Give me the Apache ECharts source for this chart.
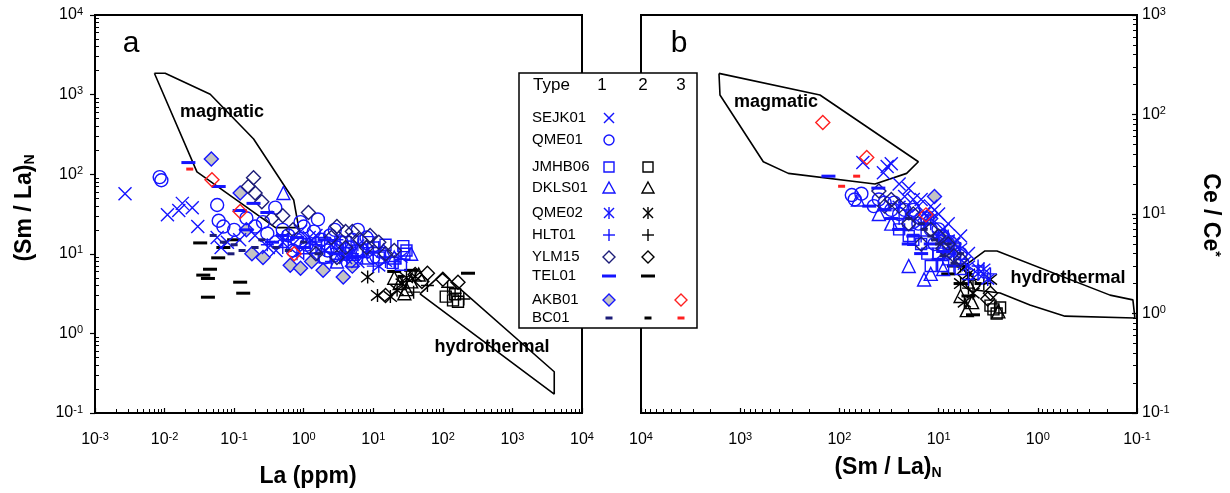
<!DOCTYPE html>
<html>
<head>
<meta charset="utf-8">
<script src="https://cdn.jsdelivr.net/npm/echarts@6/dist/echarts.min.js"></script>
<style>
  html, body { margin: 0; padding: 0; background: #fff; }
  #chart { width: 1230px; height: 493px; }
</style>
</head>
<body>
<div id="chart"></div>
<script>
// ---- tick labels ----
var ticksLa = [0.001, 0.01, 0.1, 1, 10, 100, 1000, 10000];
var ticksSmLa = [0.1, 1, 10, 100, 1000, 10000];
var ticksCe = [0.1, 1, 10, 100, 1000];

// ---- field outlines ----
var magmaticA = [[0.00714, 1853], [0.0102, 1853], [0.0453, 1009], [0.1905, 277], [0.718, 47.4], [0.847, 21.3], [0.392, 21.3], [0.0292, 107]];
var hydroA = [[46.9, 3.13], [98.6, 5.69], [3990, 0.33], [3990, 0.173]];
var magmaticB = [[1636, 259], [157, 157], [16.0, 33.5], [21.0, 25.6], [43.8, 20.0], [327, 25.6], [585, 33.5], [1599, 157]];
var hydroB = [[5.68, 2.93], [3.41, 4.25], [2.58, 4.25], [0.187, 1.53], [0.11, 1.37], [0.105, 0.9], [0.532, 0.94], [1.2, 1.22], [2.4, 1.61], [4.3, 1.72]];

// ---- panel a: [La ppm, (Sm/La)N] ----
var a_SEJK01 = [[0.0027, 57], [0.011, 31], [0.018, 43], [0.025, 38], [0.016, 35], [0.057, 16], [0.08, 14], [0.065, 12], [0.03, 22], [0.12, 15], [0.31, 12], [0.5, 14], [0.2, 17], [1.5, 17], [2.5, 13], [0.9, 19], [0.7, 13], [1.2, 16], [3, 11], [4, 9], [6, 8], [0.4, 11]];
var a_QME01 = [[0.0085, 92], [0.009, 84], [0.057, 41], [0.06, 26], [0.07, 22], [0.1, 20], [0.26, 25], [0.39, 38], [0.3, 18], [0.5, 20], [0.8, 15], [1.0, 22], [1.6, 27], [2.4, 17], [3, 12], [4, 10], [5, 15], [0.2, 22], [1.3, 12], [0.7, 11], [6, 20], [2, 9], [0.15, 28], [8, 16], [0.4, 14], [0.6, 17], [1.1, 13], [1.8, 15], [2.8, 20], [3.5, 14], [4.5, 12], [7, 11], [10, 9], [1.4, 19], [0.9, 25], [2.2, 11]];
var a_JMHB06_1 = [[8.5, 14], [10, 12], [27, 12.5], [28, 10], [19, 7.7], [25, 7.3], [3, 10], [5, 8], [2, 9], [1.5, 12], [4, 14], [6, 11], [12, 9], [30, 11], [15, 13]];
var a_JMHB06_2 = [[110, 2.9], [140, 2.6], [165, 2.5], [150, 3.1]];
var a_DKLS01_1 = [[0.51, 58], [5, 10], [8, 9], [14, 11], [20, 9], [3, 8], [35, 10]];
var a_DKLS01_2 = [[20, 5], [24, 4.3], [30, 3.6], [35, 4.5], [28, 3.2], [45, 5.5]];
var a_QME02_1 = [[1.2, 14], [2, 11], [3.5, 9], [6, 13], [15, 8], [0.8, 10], [10, 10], [0.5, 16], [1.8, 12], [2.8, 14], [4.5, 10], [8, 11], [12, 7], [25, 9]];
var a_QME02_2 = [[8.3, 5.1], [11.5, 3.0], [17.6, 2.9], [22, 3.5], [26, 4.2], [30, 5], [40, 5.2]];
var a_HLT01_1 = [[0.5, 12], [1, 10], [2, 16], [4, 12], [7, 9], [10, 7], [20, 8], [0.6, 15], [1.5, 13], [3, 15], [5, 10], [12, 12], [15, 9], [2.5, 8], [0.3, 13]];
var a_HLT01_2 = [[38, 3.3], [60, 4], [117, 3.8], [200, 2.7], [30, 4.5], [150, 3.2]];
var a_YLM15_1 = [[0.19, 90], [0.2, 58], [0.16, 70], [1.17, 33], [3, 22], [4, 19], [5, 19], [6.5, 15], [2.5, 16], [8, 12], [12, 14], [0.5, 30], [1.5, 10], [3, 9], [0.7, 20], [20, 11], [0.25, 45], [0.35, 28], [9, 17], [15, 10], [4, 12]];
var a_YLM15_2 = [[15, 3], [40, 5.5], [60, 5.7], [165, 4.4], [100, 4.8], [50, 4.5]];
var a_TEL01_1 = [[0.022, 140], [0.06, 70], [0.19, 43], [0.3, 33], [0.15, 20], [1, 12], [3, 10], [0.5, 17], [0.12, 35], [0.35, 14], [2, 15], [5, 9], [0.8, 16]];
var a_TEL01_2 = [[0.0325, 13.7], [0.059, 8.9], [0.045, 6.4], [0.036, 5.4], [0.042, 4.9], [0.122, 4.4], [0.135, 3.2], [0.042, 2.85], [0.1, 15], [230, 5.7], [20, 6], [35, 6.2], [0.07, 12]];
var a_AKB01_1 = [[0.047, 155], [0.122, 58], [0.64, 7.2], [0.9, 6.6], [1.9, 6.2], [3.7, 5.1], [0.26, 9], [0.18, 10], [5, 7], [0.15, 20], [1.3, 8]];
var a_AKB01_3 = [[0.048, 85], [0.122, 34], [0.73, 10]];
var a_BC01_1 = [[0.05, 17], [0.07, 14], [0.1, 13], [0.13, 11], [0.2, 12], [0.25, 15], [0.09, 10], [0.4, 12], [0.6, 11], [1, 14], [1.6, 10]];
var a_BC01_2 = [[20, 6], [25, 5.2]];
var a_BC01_3 = [[0.023, 116]];

// ---- panel b: [(Sm/La)N, Ce/Ce*] ----
var b_SEJK01 = [[58, 33], [33, 30], [30, 32], [36, 26], [20, 18], [15, 14], [10, 10], [8, 8], [6, 6], [12, 12], [5, 4], [25, 20], [18, 14], [14, 10], [9, 7], [7, 5], [5.5, 3.2], [4, 2.8], [22, 15], [11, 11], [16, 12], [3.5, 2.5]];
var b_QME01 = [[75, 15.5], [70, 14], [60, 16], [45, 12], [30, 11], [25, 10], [20, 8], [15, 9], [12, 7], [9, 6], [8, 5], [18, 11], [35, 13], [40, 14], [28, 13], [22, 11], [16, 8], [13, 9], [10, 7], [11, 5], [6, 4]];
var b_JMHB06_1 = [[20, 6], [15, 5], [10, 4], [8, 3.5], [12, 3], [7, 4.5], [25, 7], [13, 4], [9, 3], [6, 2.8], [18, 5.5]];
var b_JMHB06_2 = [[2.8, 1.1], [2.4, 1.15], [2.6, 1.0], [3, 1.2]];
var b_DKLS01_1 = [[65, 14], [20, 3], [14, 2.2], [12, 2.5], [9, 2.8], [30, 8], [40, 10]];
var b_DKLS01_2 = [[5.2, 1.08], [4.6, 1.3], [6, 1.5], [2.5, 1.05]];
var b_QME02_1 = [[15, 8], [10, 6], [7, 4], [5, 3], [4, 2.5], [3.5, 2.8], [20, 10], [12, 9], [8, 5.5], [6, 4.5], [9, 4], [25, 12], [3.2, 2.2]];
var b_QME02_2 = [[5, 2.5], [4.5, 1.6], [5.5, 1.3], [3, 2.2], [6, 2]];
var b_HLT01_1 = [[25, 9], [15, 6], [10, 5], [6, 3.5], [4, 3], [3, 2.5], [20, 11], [12, 8], [8, 6], [7, 3], [5, 2.2]];
var b_HLT01_2 = [[4.5, 2.2], [5, 1.8], [6, 3], [3.5, 2]];
var b_YLM15_1 = [[40, 17], [25, 12], [18, 10], [12, 7], [8, 5], [6, 3.5], [15, 5], [30, 14], [20, 8], [10, 6], [9, 4.5], [7, 3.8], [35, 12]];
var b_YLM15_2 = [[4.5, 1.9], [5.5, 2.5], [3, 1.6], [3.2, 1.4]];
var b_TEL01_1 = [[129, 24], [40.5, 18.2], [50, 12], [30, 9], [25, 7], [20, 5], [15, 4], [10, 3.5], [18, 6], [12, 5], [9, 4.2], [35, 11]];
var b_TEL01_2 = [[8, 2.5], [6, 2], [5, 1.5], [4.5, 0.97], [7, 3]];
var b_AKB01_1 = [[11, 15], [9, 6], [7, 5], [12, 9], [8, 4]];
var b_AKB01_3 = [[147, 83], [53, 37], [13.4, 9.8]];
var b_BC01_1 = [[20, 9], [15, 8], [12, 6], [10, 5], [8, 5], [6, 4], [14, 7], [11, 5.5], [9, 3.8], [7, 3.2]];
var b_BC01_2 = [[6, 3], [5, 2.5], [4, 2]];
var b_BC01_3 = [[67, 24], [95, 19]];

// ---- legend ----
var legendNames = ['SEJK01', 'QME01', 'JMHB06', 'DKLS01', 'QME02', 'HLT01', 'YLM15', 'TEL01', 'AKB01', 'BC01'];
var legendType1 = ['x', 'circle', 'square', 'triangle', 'star', 'plus', 'diamond', 'dash', 'diamond', 'dot'];
var legendType2 = [null, null, 'square', 'triangle', 'star', 'plus', 'diamond', 'dash', null, 'dot'];
var legendType3 = [null, null, null, null, null, null, null, null, 'diamond', 'dot'];

var FONT = '"Liberation Sans", Arial, sans-serif';
var BLUE = '#1414ff', NAVY = '#1c1c78', BLACK = '#000000', RED = '#ff2020', GRAY = '#c3c3c3';

var SYMBOLS = {
  x: 'path://M0,0L10,10M10,0L0,10',
  star: 'path://M1,1L9,9M9,1L1,9M5,0L5,10',
  plus: 'path://M5,0L5,10M0,5L10,5',
  circle: 'circle',
  square: 'rect',
  triangle: 'triangle',
  diamond: 'diamond',
  dash: 'rect',
  dot: 'rect'
};
var SIZES = { x: 13, star: 13, plus: 13, circle: 13, square: 11, triangle: 13, diamond: 14, dash: [14, 3], dot: [7, 3] };

function sc(data, panel, kind, color, fill) {
  var solid = kind === 'dash' || kind === 'dot';
  return {
    type: 'scatter',
    xAxisIndex: panel * 2,
    yAxisIndex: panel * 2,
    data: data,
    symbol: SYMBOLS[kind],
    symbolSize: SIZES[kind],
    itemStyle: solid
      ? { color: color, borderWidth: 0, opacity: 1 }
      : { color: fill || 'transparent', borderColor: color, borderWidth: 1.4, opacity: 1 },
    z: 5,
    silent: true
  };
}

function outline(pts, panel) {
  return {
    type: 'line',
    xAxisIndex: panel * 2,
    yAxisIndex: panel * 2,
    data: pts.concat([pts[0]]),
    symbol: 'none',
    lineStyle: { color: '#000', width: 1.6 },
    z: 3,
    silent: true
  };
}

function minors(lo, hi) {
  var out = [];
  for (var k = lo; k < hi; k++) {
    for (var m = 2; m < 10; m++) out.push(+(m * Math.pow(10, k)).toPrecision(6));
  }
  return out;
}

var RICH = {
  b: { fontSize: 16, lineHeight: 18, fontFamily: FONT, color: '#000', verticalAlign: 'middle' },
  s: { fontSize: 11, lineHeight: 8, fontFamily: FONT, color: '#000', verticalAlign: 'top' }
};
function pow10(v) {
  var e = Math.round(Math.log(v) / Math.LN10);
  return '{b|10}{s|' + e + '}';
}

function mainAxis(grid, min, max, pos, ticks, inverse, margin, tickInside) {
  return {
    type: 'log', logBase: 10, gridIndex: grid, min: min, max: max, position: pos, inverse: !!inverse,
    axisLine: { show: true, onZero: false, lineStyle: { color: '#000', width: 2 } },
    axisTick: { show: true, inside: tickInside, length: 5, customValues: ticks, lineStyle: { color: '#000', width: 1.2 } },
    axisLabel: { show: true, margin: margin, customValues: ticks, formatter: pow10, rich: RICH },
    splitLine: { show: false }
  };
}
function minorAxis(grid, min, max, pos, lo, hi, inverse) {
  return {
    type: 'log', logBase: 10, gridIndex: grid, min: min, max: max, position: pos, inverse: !!inverse,
    axisLine: { show: false },
    axisTick: { show: true, inside: true, length: 4, customValues: minors(lo, hi), lineStyle: { color: '#000', width: 1 } },
    axisLabel: { show: false },
    splitLine: { show: false }
  };
}

var series = [
  outline(magmaticA, 0), outline(hydroA, 0), outline(magmaticB, 1), outline(hydroB, 1),

  sc(a_TEL01_2, 0, 'dash', BLACK), sc(a_BC01_2, 0, 'dot', BLACK),
  sc(a_JMHB06_2, 0, 'square', BLACK), sc(a_DKLS01_2, 0, 'triangle', BLACK),
  sc(a_QME02_2, 0, 'star', BLACK), sc(a_HLT01_2, 0, 'plus', BLACK), sc(a_YLM15_2, 0, 'diamond', BLACK),
  sc(a_AKB01_1, 0, 'diamond', BLUE, GRAY),
  sc(a_SEJK01, 0, 'x', BLUE), sc(a_QME01, 0, 'circle', BLUE), sc(a_JMHB06_1, 0, 'square', BLUE),
  sc(a_DKLS01_1, 0, 'triangle', BLUE), sc(a_QME02_1, 0, 'star', BLUE), sc(a_HLT01_1, 0, 'plus', BLUE),
  sc(a_YLM15_1, 0, 'diamond', NAVY), sc(a_TEL01_1, 0, 'dash', BLUE), sc(a_BC01_1, 0, 'dot', NAVY),
  sc(a_AKB01_3, 0, 'diamond', RED), sc(a_BC01_3, 0, 'dot', RED),

  sc(b_TEL01_2, 1, 'dash', BLACK), sc(b_BC01_2, 1, 'dot', BLACK),
  sc(b_JMHB06_2, 1, 'square', BLACK), sc(b_DKLS01_2, 1, 'triangle', BLACK),
  sc(b_QME02_2, 1, 'star', BLACK), sc(b_HLT01_2, 1, 'plus', BLACK), sc(b_YLM15_2, 1, 'diamond', BLACK),
  sc(b_AKB01_1, 1, 'diamond', BLUE, GRAY),
  sc(b_SEJK01, 1, 'x', BLUE), sc(b_QME01, 1, 'circle', BLUE), sc(b_JMHB06_1, 1, 'square', BLUE),
  sc(b_DKLS01_1, 1, 'triangle', BLUE), sc(b_QME02_1, 1, 'star', BLUE), sc(b_HLT01_1, 1, 'plus', BLUE),
  sc(b_YLM15_1, 1, 'diamond', NAVY), sc(b_TEL01_1, 1, 'dash', BLUE), sc(b_BC01_1, 1, 'dot', NAVY),
  sc(b_AKB01_3, 1, 'diamond', RED), sc(b_BC01_3, 1, 'dot', RED)
];

// ---- legend glyphs (drawn as graphics) ----
function glyph(kind, color, cx, cy, fill) {
  var st = { stroke: color, lineWidth: 1.4, fill: 'none' };
  switch (kind) {
    case 'x': return [
      { type: 'line', shape: { x1: cx - 5, y1: cy - 5, x2: cx + 5, y2: cy + 5 }, style: st },
      { type: 'line', shape: { x1: cx + 5, y1: cy - 5, x2: cx - 5, y2: cy + 5 }, style: st }];
    case 'star': return [
      { type: 'line', shape: { x1: cx - 5, y1: cy - 5, x2: cx + 5, y2: cy + 5 }, style: st },
      { type: 'line', shape: { x1: cx + 5, y1: cy - 5, x2: cx - 5, y2: cy + 5 }, style: st },
      { type: 'line', shape: { x1: cx, y1: cy - 6, x2: cx, y2: cy + 6 }, style: st }];
    case 'plus': return [
      { type: 'line', shape: { x1: cx - 6, y1: cy, x2: cx + 6, y2: cy }, style: st },
      { type: 'line', shape: { x1: cx, y1: cy - 6, x2: cx, y2: cy + 6 }, style: st }];
    case 'circle': return [{ type: 'circle', shape: { cx: cx, cy: cy, r: 5 }, style: st }];
    case 'square': return [{ type: 'rect', shape: { x: cx - 5, y: cy - 5, width: 10, height: 10 }, style: st }];
    case 'triangle': return [{ type: 'polygon', shape: { points: [[cx, cy - 6], [cx + 6, cy + 5], [cx - 6, cy + 5]] }, style: st }];
    case 'diamond': return [{ type: 'polygon', shape: { points: [[cx, cy - 6], [cx + 6, cy], [cx, cy + 6], [cx - 6, cy]] },
      style: { stroke: color, lineWidth: 1.4, fill: fill || 'none' } }];
    case 'dash': return [{ type: 'rect', shape: { x: cx - 7, y: cy - 1.5, width: 14, height: 3 }, style: { fill: color } }];
    case 'dot': return [{ type: 'rect', shape: { x: cx - 3.5, y: cy - 1.5, width: 7, height: 3 }, style: { fill: color } }];
  }
  return [];
}

var LX = 519, LY = 73, LW = 178, LH = 255;
var rowY = [118, 140, 167, 188, 213, 235, 257, 276, 300, 318];
var colX = [609, 648, 681];
var col1Colors = [BLUE, BLUE, BLUE, BLUE, BLUE, BLUE, NAVY, BLUE, BLUE, NAVY];

var graphics = [
  { type: 'rect', shape: { x: LX, y: LY, width: LW, height: LH }, style: { fill: '#fff', stroke: '#000', lineWidth: 1.5 } },
  { type: 'text', x: 533, y: 85, style: { text: 'Type', fontSize: 17, fontFamily: FONT, fill: '#000', align: 'left', verticalAlign: 'middle' } },
  { type: 'text', x: 602, y: 85, style: { text: '1', fontSize: 17, fontFamily: FONT, fill: '#000', align: 'center', verticalAlign: 'middle' } },
  { type: 'text', x: 643, y: 85, style: { text: '2', fontSize: 17, fontFamily: FONT, fill: '#000', align: 'center', verticalAlign: 'middle' } },
  { type: 'text', x: 681, y: 85, style: { text: '3', fontSize: 17, fontFamily: FONT, fill: '#000', align: 'center', verticalAlign: 'middle' } }
];
legendNames.forEach(function (n, i) {
  graphics.push({ type: 'text', x: 532, y: rowY[i], style: { text: n, fontSize: 15, fontFamily: FONT, fill: '#000', align: 'left', verticalAlign: 'middle' } });
  if (legendType1[i]) graphics = graphics.concat(glyph(legendType1[i], col1Colors[i], colX[0], rowY[i], n === 'AKB01' ? GRAY : null));
  if (legendType2[i]) graphics = graphics.concat(glyph(legendType2[i], BLACK, colX[1], rowY[i]));
  if (legendType3[i]) graphics = graphics.concat(glyph(legendType3[i], RED, colX[2], rowY[i]));
});

function label(text, x, y, size, weight, rot, rich) {
  var st = { text: text, fontSize: size, fontWeight: weight, fontFamily: FONT, fill: '#000', align: 'center', verticalAlign: 'middle' };
  if (rich) st.rich = rich;
  return { type: 'text', x: x, y: y, rotation: rot || 0, style: st };
}
var TITLE_RICH = {
  t: { fontSize: 23, fontWeight: 'bold', fontFamily: FONT, lineHeight: 24, verticalAlign: 'middle' },
  n: { fontSize: 14, fontWeight: 'bold', fontFamily: FONT, lineHeight: 10, verticalAlign: 'bottom' },
  u: { fontSize: 14, fontWeight: 'bold', fontFamily: FONT, lineHeight: 10, verticalAlign: 'top' }
};
graphics.push(
  label('a', 131, 44, 30, 'normal'),
  label('b', 679, 44, 30, 'normal'),
  label('magmatic', 222, 112, 18, 'bold'),
  label('hydrothermal', 492, 347, 18, 'bold'),
  label('magmatic', 776, 102, 18, 'bold'),
  label('hydrothermal', 1068, 278, 18, 'bold'),
  label('La (ppm)', 308, 477, 23, 'bold'),
  label('{t|(Sm / La)}{n|N}', 888, 468, 23, 'bold', 0, TITLE_RICH),
  label('{t|(Sm / La)}{n|N}', 25, 208, 23, 'bold', Math.PI / 2, TITLE_RICH),
  label('{t|Ce / Ce}{u|*}', 1210, 215, 23, 'bold', -Math.PI / 2, TITLE_RICH)
);
graphics.forEach(function (g) { g.z = 100; });

var chart = echarts.init(document.getElementById('chart'), null, { renderer: 'canvas' });
chart.setOption({
  animation: false,
  backgroundColor: '#fff',
  textStyle: { fontFamily: FONT },
  grid: [
    { left: 95, top: 15, width: 487, height: 398, show: true, borderColor: '#000', borderWidth: 2, backgroundColor: 'transparent', containLabel: false },
    { left: 641, top: 15, width: 496, height: 398, show: true, borderColor: '#000', borderWidth: 2, backgroundColor: 'transparent', containLabel: false }
  ],
  xAxis: [
    mainAxis(0, 0.001, 10000, 'bottom', ticksLa, false, 18, true),
    minorAxis(0, 0.001, 10000, 'bottom', -3, 4, false),
    mainAxis(1, 0.1, 10000, 'bottom', ticksSmLa, true, 18, true),
    minorAxis(1, 0.1, 10000, 'bottom', -1, 4, true)
  ],
  yAxis: [
    mainAxis(0, 0.1, 10000, 'left', ticksSmLa, false, 12, false),
    minorAxis(0, 0.1, 10000, 'left', -1, 4, false),
    mainAxis(1, 0.1, 1000, 'right', ticksCe, false, 5, true),
    minorAxis(1, 0.1, 1000, 'right', -1, 3, false)
  ],
  graphic: graphics,
  series: series
});
window.addEventListener('resize', function () { chart.resize(); });
</script>
</body>
</html>
